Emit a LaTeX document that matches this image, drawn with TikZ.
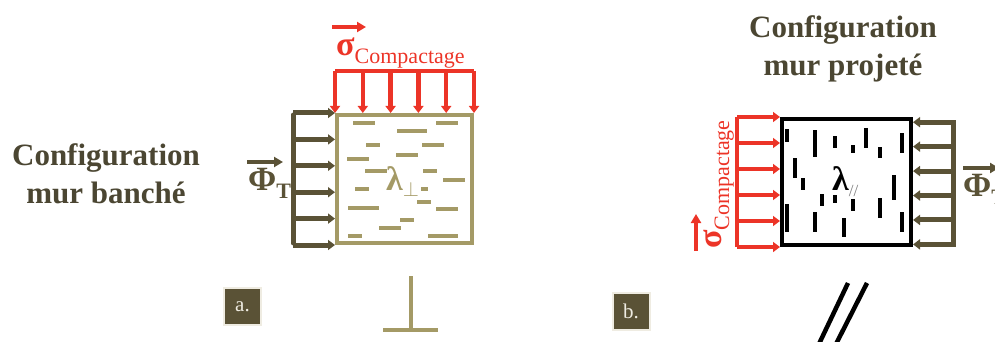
\documentclass[tikz,border=0pt]{standalone}
\usepackage{fontspec}
\setmainfont{Liberation Serif}
\usetikzlibrary{arrows.meta, calc}

\definecolor{wallolive}{HTML}{5A5236}
\definecolor{walltan}{HTML}{A49A66}
\definecolor{compred}{HTML}{EC3427}
\definecolor{titlec}{HTML}{4B4632}
\definecolor{paper}{HTML}{EFECE2}

% lowered subscript, sized like the reference
\newcommand\lowsub[2][8pt]{\raisebox{-#1}{\fontsize{22}{22}\selectfont #2}}

\begin{document}
\begin{tikzpicture}[
  x=1pt, y=-1pt,
  title/.style={text=titlec, font=\fontsize{31}{38}\selectfont\bfseries, align=center},
  wall/.style={draw, line width=4pt, minimum width=135pt, minimum height=128pt, inner sep=0pt},
  parr/.style={-{Triangle[length=7pt,width=10pt]}, line width=4.5pt, compred},
  farr/.style={-{Triangle[length=7pt,width=10pt]}, line width=5pt, wallolive},
  vecarr/.style={-{Triangle[length=9pt,width=10pt]}, line width=3.5pt},
  bar/.style={line width=4.5pt, line cap=rect},
  hfib/.style={walltan, line width=3.5pt},
  vfib/.style={black, line width=3.5pt},
  tag/.style={fill=wallolive, draw=paper, line width=2pt, minimum size=37pt, inner sep=0pt,
              text=paper, font=\fontsize{21}{21}\selectfont},
  lbl/.style={inner sep=0pt, anchor=base west, font=\fontsize{34}{34}\selectfont\bfseries},
]
\useasboundingbox (0,0) rectangle (995,342);

% --- a. mur banche ---
\node[title] (tA) at (106,174) {Configuration\\mur banché};
\node[wall, draw=walltan] (wA) at (404.5,179) {};

% fibres lying flat
\foreach \xa/\xb/\y in {353/375/123, 397/427/131, 436/458/123, 366/380/145, 422/444/145,
    347/369/159, 396/418/155, 365/387/171, 423/437/171, 443/465/180, 355/369/189,
    421/428/189, 417/431/202, 348/379/208, 436/458/209, 400/414/220, 379/401/228,
    348/362/236, 428/458/236}
  \draw[hfib] (\xa,\y) -- (\xb,\y);
\node[lbl, text=walltan] (lA) at (386,190) {λ\lowsub[6pt]{$\perp$}};

% compaction from the top
\draw[compred, bar] ($(wA.north west)+(2,-42)$) -- ($(wA.north east)+(-2,-42)$);
\foreach \i in {0,...,5}
  \draw[parr] ($(wA.north west)!\i/5!(wA.north east)+(0,-42)$) -- ($(wA.north west)!\i/5!(wA.north east)$);
\node[lbl, text=compred] (sA) at (336,56) {σ\lowsub{\mdseries Compactage}};
\draw[vecarr, compred] ($(sA.base west)+(-4,-29)$) -- ++(34,0);

% heat flux from the left
\draw[wallolive, bar, line width=5pt, line cap=round] ($(wA.north west)+(-42,2)$) -- ($(wA.south west)+(-42,-2)$);
\foreach \i in {0,...,5}
  \draw[farr] ($(wA.north west)!\i/5!(wA.south west)+(-42,0)$) -- ($(wA.north west)!\i/5!(wA.south west)$);
\node[lbl, text=wallolive] (pA) at (248,190) {Φ\lowsub{T}};
\draw[vecarr, wallolive] ($(pA.base west)+(-1,-28)$) -- ++(36,0);

\node[tag] (tgA) at (242.5,306.5) {a.};
\draw[walltan, line width=4pt] (411,276) -- (411,330) (383,330) -- (438,330);

% --- b. mur projete ---
\node[title] (tB) at (843,49) {Configuration\\mur projeté};
\node[wall, draw=black, minimum width=129pt, minimum height=126pt] (wB) at (846.5,182) {};

% fibres standing up
\foreach \x/\ya/\yb in {787/129/142, 815/130/157, 835/136/148, 853/145/153, 866/128/148,
    880/147/158, 902/133/153, 795/158/178, 803/178/190, 894/175/200, 822/194/206,
    835/195/203, 853/199/211, 880/198/218, 787/204/232, 815/212/232, 844/218/237,
    902/212/232}
  \draw[vfib] (\x,\ya) -- (\x,\yb);
\node[lbl] (lB) at (832,190) {λ\raisebox{-6pt}{\fontsize{17}{17}\selectfont\mdseries\color{gray}//}};

% compaction from the left
\draw[compred, bar] ($(wB.north west)+(-43,2)$) -- ($(wB.south west)+(-43,-2)$);
\foreach \i in {0,...,5}
  \draw[parr] ($(wB.north west)!\i/5!(wB.south west)+(-43,0)$) -- ($(wB.north west)!\i/5!(wB.south west)$);
\node[lbl, text=compred, rotate=90] (sB) at (721,249) {σ\lowsub{\mdseries Compactage}};
\draw[vecarr, compred] ($(sB.base west)+(-25,2)$) -- ++(0,-37);

% heat flux from the right
\draw[wallolive, bar, line width=5pt] ($(wB.north east)!0.04!(wB.south east)+(40,0)$) -- ($(wB.north east)!0.98!(wB.south east)+(40,0)$);
\foreach \i [evaluate=\i as \f using 0.04+0.188*\i] in {0,...,5}
  \draw[farr] ($(wB.north east)!\f!(wB.south east)+(40,0)$) -- ($(wB.north east)!\f!(wB.south east)$);
\node[lbl, text=wallolive] (pB) at (963,196) {Φ\lowsub{T}};
\draw[vecarr, wallolive] ($(pB.base west)+(0,-28)$) -- ++(36,0);

\node[tag] (tgB) at (631,311) {b.};
\draw[line width=4.5pt] (818,346) -- (848,283) (835,346) -- (867,283);
\end{tikzpicture}
\end{document}
